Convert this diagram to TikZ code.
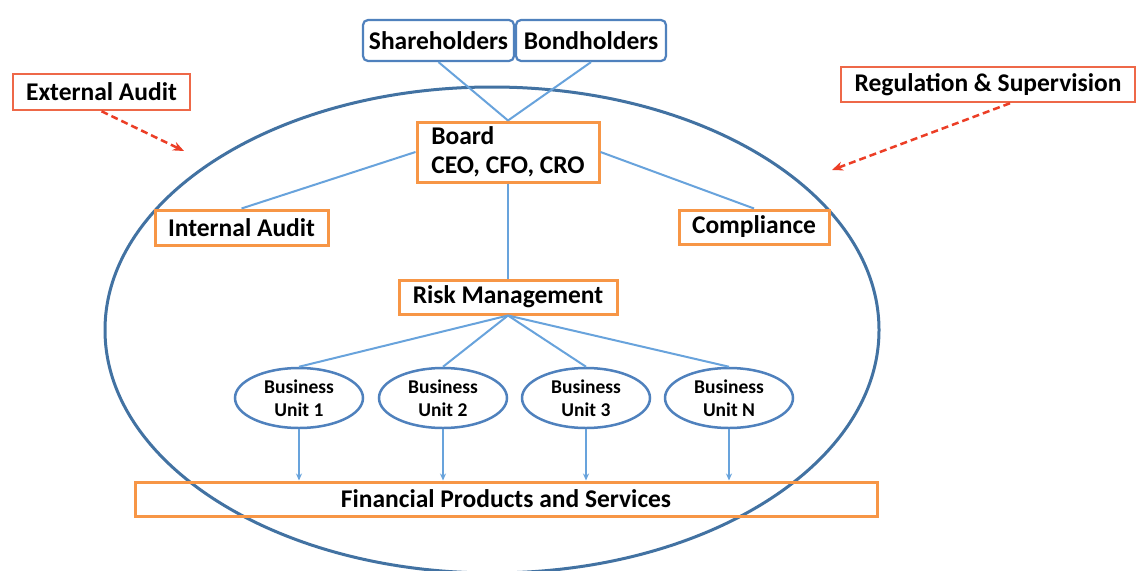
\documentclass[tikz,border=0pt]{standalone}
\usepackage{fontspec}
\setmainfont{Carlito}
\usetikzlibrary{arrows.meta,shapes.geometric}
\definecolor{ellblue}{RGB}{66,114,162}
\definecolor{lineblue}{RGB}{104,163,220}
\definecolor{boxorange}{RGB}{247,150,70}
\definecolor{redorange}{RGB}{238,104,72}
\definecolor{arrred}{RGB}{236,62,38}
\definecolor{holderblue}{RGB}{79,129,189}
\tikzset{
  lbl/.style={font=\fontsize{25.5}{29}\selectfont\bfseries, inner sep=0pt},
  obox/.style={lbl, draw=boxorange, line width=3pt, fill=white, rectangle},
  rbox/.style={lbl, draw=redorange, line width=2.5pt, fill=white, rectangle},
  hbox/.style={lbl, draw=holderblue, line width=2.2pt, fill=white, rounded corners=5pt, rectangle},
  unit/.style={ellipse, draw=holderblue, line width=2.5pt, fill=white, inner sep=0pt,
    minimum width=128pt, minimum height=60pt, align=center,
    font=\fontsize{19.5}{23}\selectfont\bfseries},
  conn/.style={draw=lineblue, line width=2pt},
  down/.style={conn, -{Stealth[length=7pt,width=6pt]}},
  infl/.style={draw=arrred, line width=2.5pt, dashed, dash pattern=on 7pt off 4pt,
    -{Stealth[length=11pt,width=9pt]}}
}
\begin{document}
\begin{tikzpicture}[x=1pt,y=-1pt]
\useasboundingbox[fill=white] (0,0) rectangle (1137,570);
% big ellipse
\draw[ellblue, line width=3pt] (492,330) ellipse [x radius=387pt, y radius=243pt];
% top holders
\node[hbox, minimum width=151pt, minimum height=41pt] (sh) at (438.5,40.5) {Shareholders};
\node[hbox, minimum width=150pt, minimum height=41pt] (bh) at (591,40.5) {Bondholders};
% board
\node[obox, minimum width=182pt, minimum height=60pt, align=left, font=\fontsize{25.5}{29}\selectfont\bfseries] (board) at (508,152) {Board\\CEO, CFO, CRO};
% external boxes
\node[rbox, minimum width=177pt, minimum height=36pt] (ext) at (101.5,92) {External Audit};
\node[rbox, minimum width=294pt, minimum height=35pt] (reg) at (988,84.5) {Regulation \& Supervision};
\coordinate (extend) at (184,151);
\coordinate (regend) at (832,170);
% second level
\node[obox, minimum width=173pt, minimum height=35pt] (ia) at (241.5,227.5) {Internal Audit};
\node[obox, minimum width=150pt, minimum height=34pt] (comp) at (754,227) {Compliance};
\node[obox, minimum width=218pt, minimum height=34pt] (rm) at (508,297) {Risk Management};
% business units
\node[unit] (bu1) at (299,398) {Business\\Unit 1};
\node[unit] (bu2) at (443,398) {Business\\Unit 2};
\node[unit] (bu3) at (586,398) {Business\\Unit 3};
\node[unit] (buN) at (729,398) {Business\\Unit N};
% financial products
\node[lbl, draw=boxorange, line width=3pt, minimum width=742pt, minimum height=34pt] (fin) at (506,499) {Financial Products and Services};
% connectors
\draw[conn] (sh.south) -- (board.north);
\draw[conn] (bh.south) -- (board.north);
\draw[conn] (board.west) -- (ia.north);
\draw[conn] (board.east) -- (comp.north);
\draw[conn] (board.south) -- (rm.north);
\foreach \u in {bu1,bu2,bu3,buN}{
  \draw[conn] (rm.south) -- (\u.north);
  \draw[down] (\u.south) -- (\u.south |- fin.north);
}
\draw[infl] (ext.south) -- (extend);
\draw[infl] ([xshift=22pt]reg.south) -- (regend);
\end{tikzpicture}
\end{document}
